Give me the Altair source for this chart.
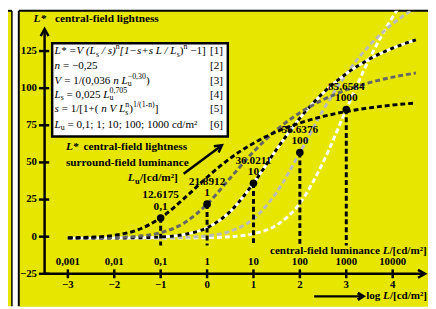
import altair as alt
import pandas as pd

# ---------------- data ----------------
log_L = [-3.0, -2.5, -2.0, -1.5, -1.0, -0.5, 0.0, 0.5, 1.0, 1.5, 2.0, 2.5, 3.0, 3.5, 4.0, 4.5]
lstar_Lu_0_1 = [-0.77, -0.34, 0.95, 4.54, 12.62, 25.55, 40.01, 52.80, 62.95, 70.72, 76.55, 80.97, 84.28, 86.75, 88.61, 90.00]
lstar_Lu_1 = [-0.94, -0.85, -0.58, 0.25, 2.72, 9.11, 21.89, 39.51, 57.17, 71.95, 83.46, 92.20, 98.78, 103.71, 107.42, 110.20]
lstar_Lu_10 = [-0.98, -0.96, -0.91, -0.74, -0.21, 1.41, 6.01, 16.98, 36.02, 58.87, 79.84, 96.76, 109.76, 119.59, 126.97, 132.52]
lstar_Lu_100 = [-0.99, -0.98, -0.97, -0.94, -0.83, -0.50, 0.54, 3.64, 11.99, 29.87, 56.64, 85.04, 109.48, 128.72, 143.36, 154.40]
lstar_Lu_1000 = [-0.99, -0.99, -0.99, -0.98, -0.96, -0.89, -0.68, -0.03, 1.98, 7.83, 22.49, 50.03, 85.65, 119.87, 147.99, 169.74]

point_log_L = [-1, 0, 1, 2, 3]
point_lstar = [12.6175, 21.8912, 36.0211, 56.6376, 85.6584]
point_value_labels = ["12.6175", "21.8912", "36.0211", "56.6376", "85.6584"]
point_Lu_labels = ["0,1", "1", "10", "100", "1000"]
drop_bottom = -6

x_ticks = [-3, -2, -1, 0, 1, 2, 3, 4]
x_labels_log = ["\u22123", "\u22122", "\u22121", "0", "1", "2", "3", "4"]
x_labels_lin = ["0,001", "0,01", "0,1", "1", "10", "100", "1000", "10000"]
y_ticks = [-25, 0, 25, 50, 75, 100, 125]
y_labels = ["\u221225", "0", "25", "50", "75", "100", "125"]

# legend formula lines: (text, kind) segments
formula_lines = [
    [("L* =V (L", "i"), ("s", "sub"), (" / s)", "i"), ("n", "sup"),
     ("[1\u2212s+s L / L", "i"), ("s", "sub"), (")", "n"), ("n", "sup"), (" \u22121]", "n")],
    [("n", "i"), (" = \u22120,25", "n")],
    [("V", "i"), (" = 1/(0,036 ", "n"), ("n L", "i"), ("u", "sub"), ("\u22120,30", "supstack"), (")", "n")],
    [("L", "i"), ("s", "sub"), (" = 0,025 ", "n"), ("L", "i"), ("u", "sub"), ("0,705", "supstack")],
    [("s", "i"), (" = 1/[1+( ", "n"), ("n V L", "i"), ("s", "sub"), ("n", "supstack"), (")", "n"),
     ("1/(1-n)", "sup"), ("]", "n")],
    [("L", "i"), ("u", "sub"), (" = 0,1; 1; 10; 100; 1000 cd/m\u00b2", "n")],
]
formula_tags = ["[1]", "[2]", "[3]", "[4]", "[5]", "[6]"]

# ---------------- layout / style ----------------
FONT = "Liberation Serif"
YELLOW = "#e6e600"
W, H = 417, 301
xs = alt.Scale(domain=[-4.0574, 4.7613], nice=False, zero=False)
ys = alt.Scale(domain=[-46.81, 152.09], nice=False, zero=False)
one = pd.DataFrame({"k": [0]})

# Times-compatible advance widths (1/1000 em) used to chain text segments
W_R = {' ': 250, '(': 333, ')': 333, '[': 333, ']': 333, '/': 278, ',': 250, ';': 278, '.': 250,
       '=': 564, '+': 564, '\u2212': 564, '-': 333, '*': 500, '\u00b2': 300, 'a': 444, 'c': 444,
       'd': 500, 'm': 778, 'n': 500, 's': 389, 'u': 500, 'L': 611, 'V': 722}
W_I = {' ': 250, '(': 333, ')': 333, '[': 389, ']': 389, '/': 278, '=': 675, '+': 675,
       '\u2212': 675, '*': 500, 'L': 556, 'V': 611, 'n': 500, 's': 389, 'u': 500}
W_B = {' ': 250, '/': 278, '[': 333, ']': 333, 'c': 444, 'd': 556, 'm': 833, '\u00b2': 300,
       'u': 556, 'l': 278, 'o': 500, 'g': 500, 'L': 611, 'e': 444, 'n': 556, 't': 333,
       'r': 444, 'a': 500, '-': 333, 'f': 333, 'i': 278}


def width(s, table, size):
    return sum(table.get(ch, 500) for ch in s) * size / 1000.0


def X(f):
    return alt.X(f, type="quantitative", scale=xs, axis=None)


def Y(f):
    return alt.Y(f, type="quantitative", scale=ys, axis=None)


def txt(s, x, y, size=11, weight="bold", style="normal", align="left", baseline="middle"):
    return alt.Chart(one).mark_text(
        font=FONT, fontSize=size, fontWeight=weight, fontStyle=style,
        align=align, baseline=baseline, color="black"
    ).encode(x=alt.value(x), y=alt.value(y), text=alt.value(s))


def rule(x, y, x2, y2, width=2.5, color="black", dash=None):
    kw = dict(color=color, strokeWidth=width)
    if dash:
        kw["strokeDash"] = dash
    return alt.Chart(one).mark_rule(**kw).encode(
        x=alt.value(x), y=alt.value(y), x2=alt.value(x2), y2=alt.value(y2))


def head(x, y, path, size, angle=0, filled=False, width=2.5):
    if filled:
        m = alt.Chart(one).mark_point(shape=path, size=size, angle=angle, filled=True,
                                      color="black", opacity=1)
    else:
        m = alt.Chart(one).mark_point(shape=path, size=size, angle=angle, filled=False,
                                      color="black", strokeWidth=width, opacity=1)
    return m.encode(x=alt.value(x), y=alt.value(y))


def chain(segs, x0, y, fs, ss, weight="normal"):
    """lay text segments one after the other (sub/superscripts smaller, shifted)."""
    out = []
    x = x0
    prev_start, prev_w = x0, 0.0
    for text, kind in segs:
        italic = kind in ("i",)
        size = fs if kind in ("n", "i") else ss
        table = W_I if italic else (W_B if weight == "bold" else W_R)
        dy = 3.5 if kind == "sub" else (-4.5 if kind in ("sup", "supstack") else 0)
        lead = len(text) - len(text.lstrip(" "))
        trail = len(text) - len(text.rstrip(" "))
        body = text.strip(" ")
        if kind == "supstack":
            start = prev_start
            w = width(body, table, size)
            out.append(txt(body, start, y + dy, size=size, weight=weight, style="normal"))
            x = start + max(prev_w, w)
            prev_start, prev_w = start, max(prev_w, w)
            continue
        x += lead * 250 * size / 1000.0
        w = width(body, table, size)
        out.append(txt(body, x, y + dy, size=size, weight=weight,
                       style="italic" if italic else "normal"))
        prev_start, prev_w = x, w
        x += w + trail * 250 * size / 1000.0
    return out


layers = []

# left neighbour strip, white gap, main panel borders
layers.append(alt.Chart(one).mark_rect(color=YELLOW).encode(
    x=alt.value(-11), x2=alt.value(-7), y=alt.value(0), y2=alt.value(H)))
layers.append(rule(-7, 0, -7, H, width=1.5))
layers.append(rule(-11, 0, -7, 0, width=2))
layers.append(rule(0, 0, 0, H, width=2))
layers.append(rule(0, 0, W, 0, width=2))

# legend box
layers.append(alt.Chart(one).mark_rect(fill="white", stroke="black", strokeWidth=2.5).encode(
    x=alt.value(34), x2=alt.value(213), y=alt.value(33), y2=alt.value(128)))


# curves
def curve_df(vals):
    return pd.DataFrame({"logL": log_L, "Lstar": vals})


def line(vals, color, dash=None, width=3):
    kw = dict(color=color, strokeWidth=width, interpolate="monotone", clip=True)
    if dash:
        kw["strokeDash"] = dash
    return alt.Chart(curve_df(vals)).mark_line(**kw).encode(x=X("logL"), y=Y("Lstar"))


layers.append(line(lstar_Lu_1000, "white", [5, 3]))
layers.append(line(lstar_Lu_100, "#bbbbbb", [5, 3]))
layers.append(line(lstar_Lu_10, "white"))
layers.append(line(lstar_Lu_10, "black", [4, 4]))
layers.append(line(lstar_Lu_1, "#666666", [5, 3]))
layers.append(line(lstar_Lu_0_1, "black", [5, 3]))

# points, drop lines, labels
pts = pd.DataFrame({
    "logL": point_log_L, "Lstar": point_lstar,
    "bottom": [drop_bottom] * len(point_log_L),
    "vlab": point_value_labels, "lulab": point_Lu_labels,
})
layers.append(alt.Chart(pts).mark_rule(color="black", strokeWidth=3, strokeDash=[5, 3]).encode(
    x=X("logL"), y=Y("Lstar"), y2="bottom:Q"))
layers.append(alt.Chart(pts).mark_circle(color="black", size=60, opacity=1).encode(
    x=X("logL"), y=Y("Lstar")))
layers.append(alt.Chart(pts).mark_text(font=FONT, fontSize=11.5, fontWeight="bold", dy=-23,
                                       color="black").encode(x=X("logL"), y=Y("Lstar"), text="vlab:N"))
layers.append(alt.Chart(pts).mark_text(font=FONT, fontSize=11.5, fontWeight="bold", dy=-11.5,
                                       color="black").encode(x=X("logL"), y=Y("Lstar"), text="lulab:N"))

# axes
AX_X = 26.3
AX_Y = 268
layers.append(rule(AX_X, AX_Y, AX_X, 20))
layers.append(head(AX_X, 18.5, "M-1,1.8L0,0L1,1.8", 64))
layers.append(rule(AX_X, AX_Y, 412, AX_Y))
layers.append(head(414, AX_Y, "M-1.8,-1L0,0L-1.8,1", 64))

xt = pd.DataFrame({"t": x_ticks, "lg": x_labels_log, "ln": x_labels_lin})
layers.append(alt.Chart(xt).mark_rule(color="black", strokeWidth=2.5).encode(
    x=X("t"), y=alt.value(263.5), y2=alt.value(272.5)))
layers.append(alt.Chart(xt).mark_text(font=FONT, fontSize=11, fontWeight="bold", color="black").encode(
    x=X("t"), y=alt.value(279), text="lg:N"))
layers.append(alt.Chart(xt).mark_text(font=FONT, fontSize=11, fontWeight="bold", color="black").encode(
    x=X("t"), y=alt.value(256.5), text="ln:N"))

yt = pd.DataFrame({"t": y_ticks, "lab": y_labels})
layers.append(alt.Chart(yt).mark_rule(color="black", strokeWidth=2.5).encode(
    y=Y("t"), x=alt.value(20.5), x2=alt.value(31)))
layers.append(alt.Chart(yt).mark_text(font=FONT, fontSize=11, fontWeight="bold", align="right",
                                      color="black").encode(y=Y("t"), x=alt.value(18.5), text="lab:N"))

# titles and annotations
layers.append(txt("L*", 15, 8.5, size=11.5, style="italic"))
layers.append(txt("central-field lightness", 37, 8.5, size=11.5))

layers.append(txt("L*", 48, 139, size=11.5, style="italic"))
layers.append(txt("central-field lightness", 66, 139, size=11.5))
layers.append(txt("surround-field luminance", 48, 155, size=11.5))
layers.append(txt("L", 111, 170, size=11.5, style="italic"))
layers.append(txt("u", 118.3, 173.5, size=8.5))
layers.append(txt("/[cd/m\u00b2]", 123.5, 170, size=11.5))
layers.append(rule(168, 166, 205, 138.5, width=2.5))
layers.append(head(207, 137, "M-1.8,-1L0,0L-1.8,1", 64, angle=323.4))

BS = 11.3
x0 = 256
LAB_Y = 244.5
layers.append(txt("central-field luminance", x0, LAB_Y, size=BS))
x1 = x0 + width("central-field luminance ", W_B, BS)
layers.append(txt("L", x1, LAB_Y, size=BS, style="italic"))
layers.append(txt("/[cd/m\u00b2]", x1 + 611 * BS / 1000, LAB_Y, size=BS))

LOG_Y = 291
layers.append(rule(301, LOG_Y, 348, LOG_Y, width=2.5))
layers.append(head(351, LOG_Y, "M-1.6,-1L0,0L-1.6,1", 49, width=3))
xl = 354
layers.append(txt("log", xl, LOG_Y, size=BS))
xl2 = xl + width("log ", W_B, BS)
layers.append(txt("L", xl2, LOG_Y, size=BS, style="italic"))
layers.append(txt("/[cd/m\u00b2]", xl2 + 611 * BS / 1000, LOG_Y, size=BS))

# legend text (formula), chained segment by segment
FS, SS = 11.3, 8
line_y = [41.5, 56, 71.5, 85.8, 100.5, 116]
for segs, y in zip(formula_lines, line_y):
    layers.extend(chain(segs, 36.5, y, FS, SS))
for tag, y in zip(formula_tags, line_y):
    layers.append(txt(tag, 208, y, size=FS, weight="normal", align="right"))

chart = alt.layer(*layers).properties(
    width=W, height=H, autosize="none",
    padding={"left": 11, "top": 0, "right": 0, "bottom": 0},
).configure_view(fill=YELLOW, stroke="transparent")

chart.save("out.html", embed_options={"renderer": "svg", "actions": False})
